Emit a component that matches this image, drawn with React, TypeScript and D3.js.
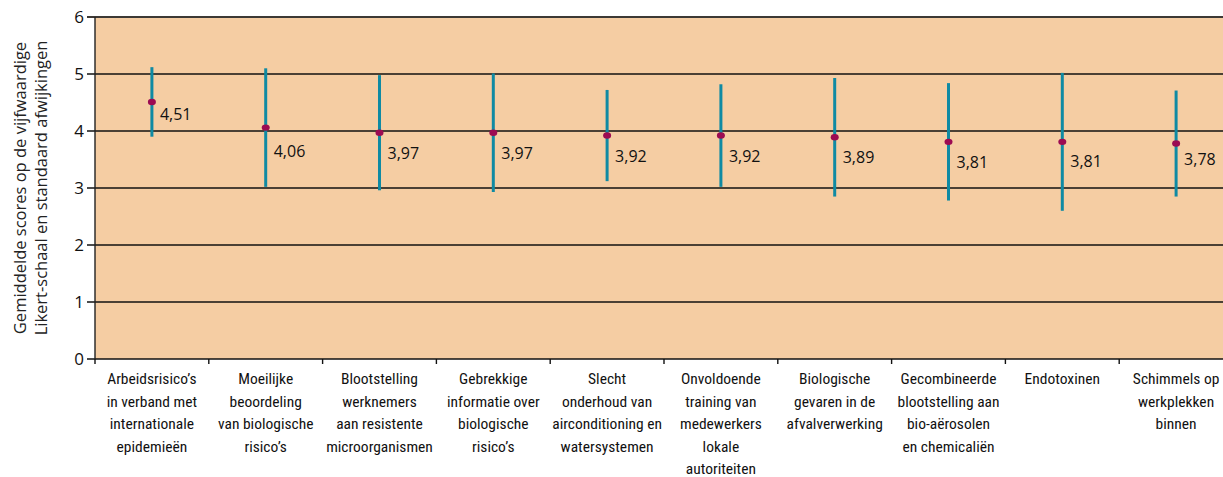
import React from 'react';
import * as d3 from 'd3';

// categories (lines of the axis labels)
const categories: string[][] = [
  ['Arbeidsrisico\u2019s', 'in verband met', 'internationale', 'epidemieën'],
  ['Moeilijke', 'beoordeling', 'van biologische', 'risico\u2019s'],
  ['Blootstelling', 'werknemers', 'aan resistente', 'microorganismen'],
  ['Gebrekkige', 'informatie over', 'biologische', 'risico\u2019s'],
  ['Slecht', 'onderhoud van', 'airconditioning en', 'watersystemen'],
  ['Onvoldoende', 'training van', 'medewerkers', 'lokale', 'autoriteiten'],
  ['Biologische', 'gevaren in de', 'afvalverwerking'],
  ['Gecombineerde', 'blootstelling aan', 'bio-aërosolen', 'en chemicaliën'],
  ['Endotoxinen'],
  ['Schimmels op', 'werkplekken', 'binnen'],
];
const means = [4.51, 4.06, 3.97, 3.97, 3.92, 3.92, 3.89, 3.81, 3.81, 3.78];
const sds = [0.61, 1.04, 1.01, 1.04, 0.8, 0.9, 1.04, 1.03, 1.21, 0.93];
const meanLabels = ['4,51', '4,06', '3,97', '3,97', '3,92', '3,92', '3,89', '3,81', '3,81', '3,78'];
const yTicks = [0, 1, 2, 3, 4, 5, 6];
const yTitle = ['Gemiddelde scores op de vijfwaardige', 'Likert-schaal en standaard afwijkingen'];

const W = 1223;
const H = 477;
const margin = { top: 17, right: -10, bottom: 118, left: 95 };
// vertical offset of each value label below its dot
const labelDy = [18, 29, 26, 26, 26, 26, 26, 26, 25, 21];

export default function App() {
  const plotW = W - margin.left - margin.right;
  const x = d3.scaleBand<number>()
    .domain(d3.range(categories.length))
    .range([margin.left, margin.left + plotW]);
  const y = d3.scaleLinear().domain([0, 6]).range([H - margin.bottom, margin.top]);
  const bw = x.bandwidth();
  const right = margin.left + plotW;
  const midY = (y(0) + y(6)) / 2;

  return (
    <svg width={W} height={H} style={{ position: 'absolute', left: 0, top: 0, background: '#fff' }}
      fontFamily="'Open Sans', sans-serif">
      <rect x={margin.left} y={y(6)} width={plotW} height={y(0) - y(6)} fill="#f5cda3" />
      {/* gridlines */}
      {yTicks.map(t => (
        <line key={t} x1={margin.left - 8} x2={right} y1={y(t)} y2={y(t)}
          stroke={t === 6 ? '#3d3935' : '#111'} strokeWidth={t === 6 ? 2.2 : 1.4} />
      ))}
      <line x1={margin.left} x2={margin.left} y1={y(6)} y2={y(0)} stroke="#222" strokeWidth={1.4} />
      {/* x ticks */}
      {d3.range(categories.length + 1).map(i => (
        <line key={i} x1={margin.left + i * bw} x2={margin.left + i * bw} y1={y(0)} y2={y(0) + 5}
          stroke="#111" strokeWidth={1.4} />
      ))}
      {/* y tick labels */}
      {yTicks.map(t => (
        <text key={t} x={margin.left - 11} y={y(t)} dy="0.36em" textAnchor="end" fontSize={17} fill="#111">{t}</text>
      ))}
      {/* y title */}
      <g transform={`translate(0, ${midY}) rotate(-90)`}>
        {yTitle.map((l, i) => (
          <text key={i} x={0} y={26 + i * 21} textAnchor="middle" fontSize={16.5} fill="#222">{l}</text>
        ))}
      </g>
      {/* error bars + means */}
      {means.map((m, i) => {
        const cx = (x(i) as number) + bw / 2;
        return (
          <g key={i}>
            <line x1={cx} x2={cx} y1={y(m + sds[i])} y2={y(m - sds[i])} stroke="#0f8aa3" strokeWidth={3} />
            <ellipse cx={cx} cy={y(m)} rx={4} ry={3.2} fill="#9c0b52" />
            <text x={cx + 8} y={y(m) + labelDy[i]} fontSize={16} fill="#111">{meanLabels[i]}</text>
          </g>
        );
      })}
      {/* category labels */}
      {categories.map((lines, i) => (
        <text key={i} textAnchor="middle" fontSize={15.5} fill="#111"
          fontFamily="'Liberation Sans Narrow', 'Roboto Condensed', sans-serif">
          {lines.map((l, j) => (
            <tspan key={j} x={(x(i) as number) + bw / 2} y={384 + j * 22.5}>{l}</tspan>
          ))}
        </text>
      ))}
    </svg>
  );
}
